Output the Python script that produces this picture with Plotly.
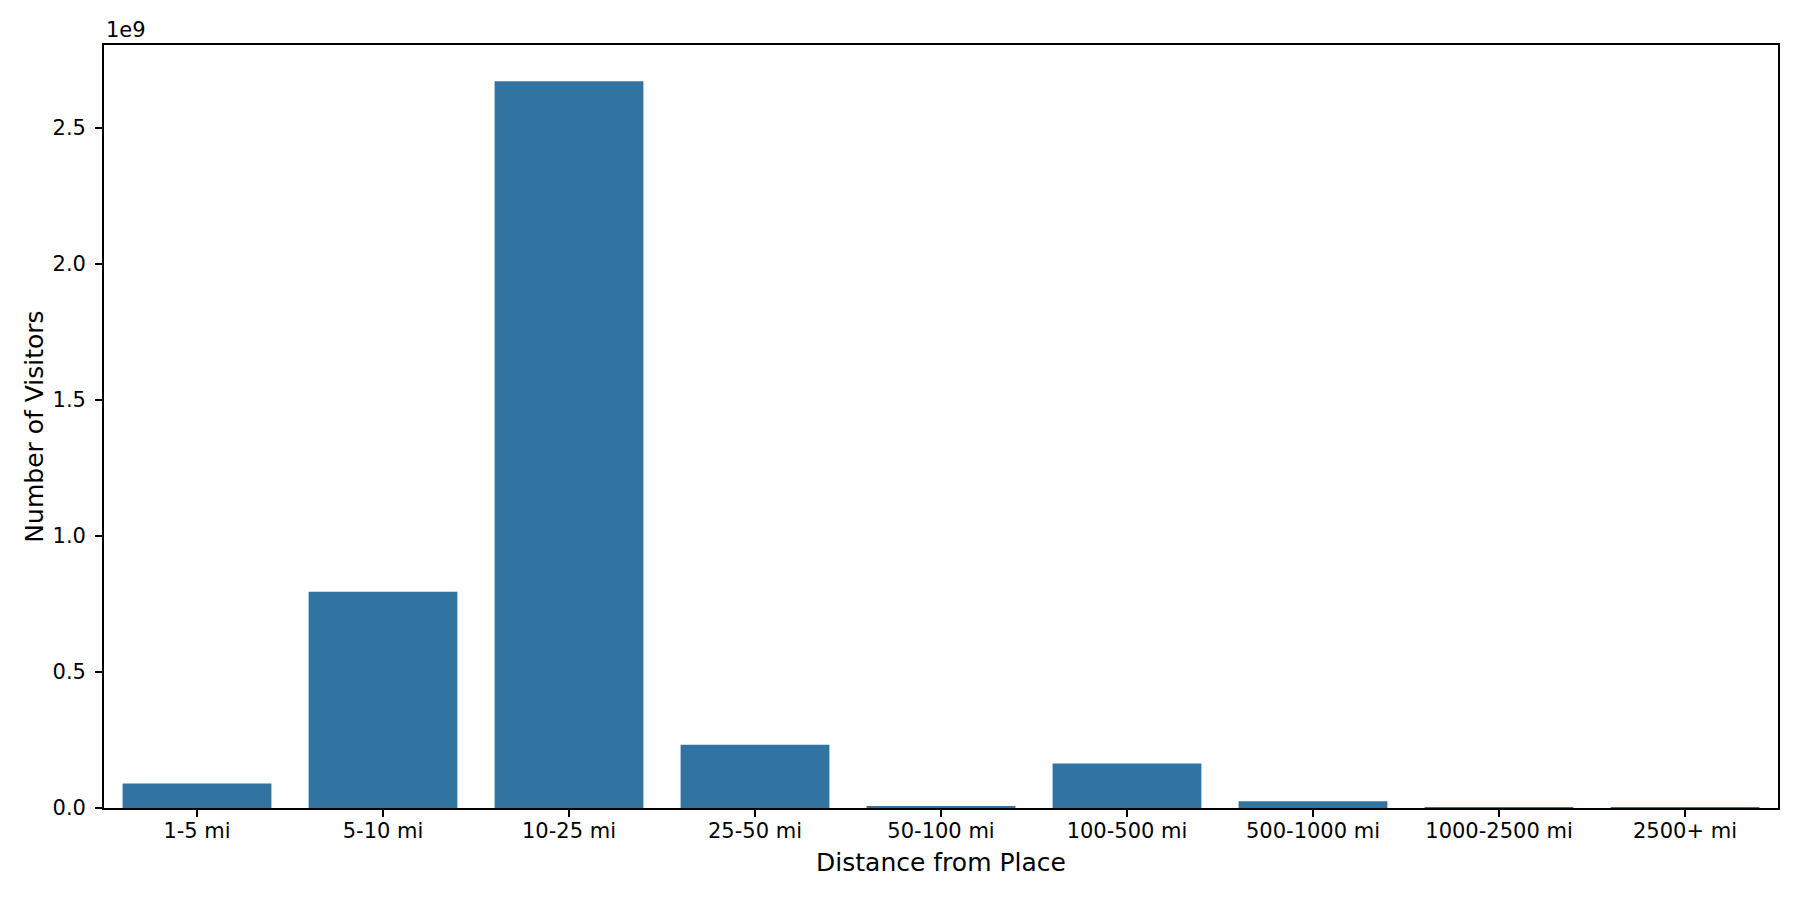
import plotly.graph_objects as go

# 距离分组及访客数量
distance_bins = ['1-5 mi', '5-10 mi', '10-25 mi', '25-50 mi', '50-100 mi',
                 '100-500 mi', '500-1000 mi', '1000-2500 mi', '2500+ mi']
visitors = [0.090e9, 0.795e9, 2.672e9, 0.233e9, 0.006e9,
            0.164e9, 0.025e9, 0.002e9, 0.00005e9]

# y轴刻度
y_tickvals = [0, 0.5e9, 1.0e9, 1.5e9, 2.0e9, 2.5e9]
y_ticktext = ['0.0', '0.5', '1.0', '1.5', '2.0', '2.5']

bar_color = '#3274a1'
font_family = 'DejaVu Sans'

fig = go.Figure()
fig.add_trace(
    go.Bar(
        x=distance_bins,
        y=visitors,
        marker=dict(color=bar_color, line=dict(width=0)),
        showlegend=False,
    )
)

# 页面body有8px默认边距，所以宽高各减8
fig.update_layout(
    width=1792,
    height=892,
    paper_bgcolor='white',
    plot_bgcolor='white',
    bargap=0.2,
    font=dict(family=font_family, size=21, color='black'),
    margin=dict(l=96, r=22, t=37, b=92),
    annotations=[
        dict(
            text='1e9',
            xref='paper', yref='paper',
            x=0, y=1,
            xanchor='left', yanchor='bottom',
            yshift=1,
            showarrow=False,
            font=dict(family=font_family, size=21, color='black'),
        )
    ],
)

fig.update_xaxes(
    title=dict(text='Distance from Place', font=dict(size=25), standoff=11),
    ticklabelstandoff=-4,
    showline=True, mirror=True, linecolor='black', linewidth=1.7,
    ticks='outside', ticklen=7, tickwidth=1.7, tickcolor='black',
    showgrid=False, zeroline=False,
)

fig.update_yaxes(
    title=dict(text='Number of Visitors', font=dict(size=25), standoff=2),
    range=[0, 2.672e9 * 1.05],
    tickvals=y_tickvals, ticktext=y_ticktext,
    ticklabelstandoff=5,
    showline=True, mirror=True, linecolor='black', linewidth=1.7,
    ticks='outside', ticklen=7, tickwidth=1.7, tickcolor='black',
    showgrid=False, zeroline=False,
)

fig.write_html('out.html')
